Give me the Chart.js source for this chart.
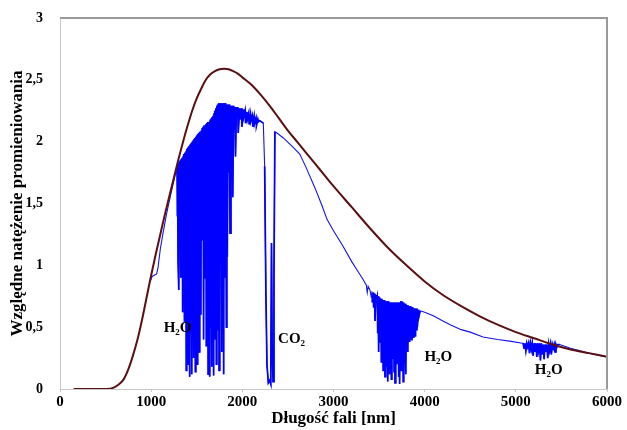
<!DOCTYPE html>
<html>
<head>
<meta charset="utf-8">
<script src="https://cdn.jsdelivr.net/npm/chart.js@4/dist/chart.umd.min.js"></script>
<style>
  html, body { margin: 0; padding: 0; background: #fff; }
</style>
</head>
<body>
<canvas id="spectrum-chart" width="627" height="430"></canvas>
<script>
// black body curve (nm, relative intensity)
const blackbodyNm = [150, 300, 450, 550, 600, 650, 700, 750, 800, 850, 900, 950, 1000, 1050, 1100, 1150, 1200, 1250, 1300, 1350, 1400, 1450, 1500, 1550, 1600, 1650, 1700, 1750, 1800, 1850, 1900, 1950, 2000, 2100, 2200, 2300, 2400, 2500, 2600, 2700, 2800, 2900, 3000, 3200, 3400, 3600, 3800, 4000, 4200, 4400, 4600, 4800, 5000, 5200, 5400, 5600, 5800, 6000];
const blackbodyVal = [0, 0, 0, 0.003, 0.015, 0.04, 0.08, 0.16, 0.27, 0.40, 0.56, 0.74, 0.92, 1.09, 1.25, 1.41, 1.56, 1.71, 1.86, 2.00, 2.13, 2.25, 2.35, 2.43, 2.50, 2.545, 2.57, 2.585, 2.59, 2.585, 2.57, 2.55, 2.52, 2.46, 2.38, 2.29, 2.19, 2.09, 2.00, 1.91, 1.82, 1.73, 1.64, 1.47, 1.30, 1.14, 1.00, 0.87, 0.76, 0.67, 0.59, 0.52, 0.46, 0.41, 0.36, 0.32, 0.29, 0.26];

// measured spectrum, in pieces [nm, value]
const solarRise = [[990,0.87],[1010,0.91],[1060,0.93],[1075,0.98],[1100,1.13],[1130,1.26],[1170,1.42],[1220,1.59],[1260,1.72],[1280,1.78]];
const h2oBand1 = [[1285,1.40],[1290,1.81],[1295,1.05],[1300,1.83],[1305,0.80],[1310,1.84],[1315,1.20],[1320,1.85],[1325,0.90],[1330,1.86],[1335,1.00],[1340,1.87],[1345,0.62],[1350,1.88],[1355,0.85],[1360,1.90],[1365,0.55],[1370,1.91],[1375,0.95],[1380,1.92],[1385,0.15],[1390,1.94],[1395,0.60],[1400,1.95],[1405,0.20],[1410,1.96],[1415,0.80],[1420,1.97],[1425,0.10],[1430,1.98],[1435,0.45],[1440,1.99],[1445,0.12],[1450,2.00],[1455,0.70],[1460,2.01],[1465,0.25],[1470,2.02],[1475,0.95],[1480,2.03],[1485,0.14],[1490,2.04],[1495,0.55],[1500,2.05],[1505,0.20],[1510,2.06],[1515,0.85],[1520,2.07],[1525,0.30],[1530,2.08],[1535,1.00],[1540,2.08],[1545,0.60],[1550,2.09],[1555,1.20],[1560,2.11],[1565,1.45],[1570,2.12],[1575,0.40],[1580,2.13],[1585,1.30],[1590,2.13],[1595,0.90],[1600,2.14],[1605,0.35],[1610,2.15],[1615,0.80],[1620,2.16],[1625,0.12],[1630,2.16],[1635,0.65],[1640,2.17],[1645,0.10],[1650,2.18],[1655,0.50],[1660,2.19],[1665,0.18],[1670,2.20],[1675,0.75],[1680,2.21],[1685,0.11],[1690,2.23],[1695,0.40],[1700,2.25],[1705,0.85],[1710,2.27],[1715,0.20],[1720,2.29],[1725,0.95],[1730,2.30],[1735,0.48],[1740,2.31],[1745,0.15],[1750,2.31],[1755,0.64],[1760,2.31],[1765,1.10],[1770,2.31],[1775,0.30],[1780,2.31],[1785,1.40],[1790,2.31],[1795,0.12],[1800,2.31],[1805,0.90],[1810,2.31],[1815,1.60],[1820,2.30],[1825,0.50],[1830,2.30],[1835,1.07],[1845,2.30],[1850,1.75],[1860,2.30],[1865,1.26],[1875,2.29],[1880,2.00],[1890,2.29],[1895,1.55],[1905,2.29],[1910,2.10],[1920,2.28],[1925,1.88],[1935,2.28],[1940,2.20],[1950,2.28],[1955,2.07],[1970,2.27],[1975,2.18],[1990,2.27],[1995,2.12],[2010,2.26],[2015,2.20],[2030,2.25],[2035,2.15],[2050,2.24],[2055,2.18],[2070,2.23],[2075,2.14],[2090,2.22],[2095,2.17],[2110,2.21],[2115,2.12],[2130,2.20],[2135,2.15],[2150,2.19],[2155,2.13],[2170,2.18],[2175,2.16],[2190,2.17],[2210,2.16],[2230,2.15]];
const co2Band = [[2245,1.80],[2258,0.80],[2270,0.20],[2285,0.05],[2300,0.07],[2312,0.04],[2320,1.18],[2327,0.35],[2337,0.06],[2347,0.90],[2357,2.08]];
const solarTail1 = [[2380,2.07],[2450,2.03],[2550,1.96],[2630,1.90],[2700,1.79],[2800,1.62],[2870,1.49],[2930,1.37],[3000,1.28],[3100,1.16],[3200,1.03],[3260,0.96],[3330,0.88],[3360,0.84],[3370,0.78],[3380,0.83],[3400,0.80],[3415,0.74],[3420,0.79]];
const h2oBand2 = [[3425,0.70],[3435,0.78],[3440,0.66],[3450,0.77],[3455,0.55],[3465,0.76],[3470,0.72],[3480,0.75],[3485,0.45],[3490,0.75],[3495,0.30],[3500,0.74],[3505,0.50],[3510,0.74],[3515,0.38],[3520,0.73],[3525,0.22],[3530,0.73],[3535,0.42],[3540,0.72],[3545,0.15],[3550,0.72],[3555,0.35],[3560,0.72],[3565,0.10],[3570,0.71],[3575,0.40],[3580,0.71],[3585,0.18],[3590,0.71],[3595,0.06],[3600,0.71],[3605,0.30],[3610,0.70],[3615,0.12],[3620,0.70],[3625,0.42],[3630,0.70],[3635,0.08],[3640,0.70],[3645,0.25],[3650,0.70],[3655,0.38],[3660,0.70],[3665,0.14],[3670,0.70],[3675,0.05],[3680,0.70],[3685,0.32],[3690,0.70],[3695,0.20],[3700,0.70],[3705,0.40],[3710,0.70],[3715,0.10],[3720,0.70],[3725,0.04],[3730,0.70],[3735,0.28],[3740,0.71],[3745,0.15],[3750,0.71],[3755,0.36],[3760,0.70],[3765,0.06],[3770,0.70],[3775,0.22],[3780,0.69],[3785,0.35],[3790,0.69],[3795,0.12],[3800,0.68],[3805,0.40],[3810,0.68],[3815,0.30],[3820,0.67],[3825,0.45],[3830,0.67],[3835,0.38],[3840,0.67],[3845,0.44],[3850,0.66],[3855,0.40],[3860,0.66],[3865,0.46],[3870,0.66],[3875,0.42],[3880,0.65],[3885,0.47],[3890,0.65],[3895,0.43],[3900,0.65],[3905,0.48],[3915,0.65],[3920,0.50],[3930,0.64],[3935,0.58],[3950,0.63]];
const solarTail2 = [[3960,0.63],[4000,0.62],[4100,0.59],[4200,0.55],[4280,0.52],[4400,0.48],[4500,0.46],[4640,0.42],[4800,0.40],[4950,0.385],[5070,0.37]];
const h2oBand3 = [[5080,0.37],[5090,0.33],[5100,0.37],[5110,0.31],[5120,0.37],[5130,0.34],[5140,0.37],[5150,0.29],[5160,0.37],[5170,0.32],[5180,0.37],[5190,0.27],[5200,0.37],[5210,0.30],[5220,0.37],[5230,0.26],[5240,0.37],[5250,0.31],[5260,0.37],[5270,0.23],[5280,0.37],[5290,0.28],[5300,0.36],[5310,0.24],[5320,0.36],[5330,0.30],[5340,0.36],[5350,0.25],[5360,0.36],[5370,0.31],[5380,0.36],[5390,0.28],[5400,0.36],[5410,0.33],[5420,0.36],[5430,0.30],[5440,0.36],[5450,0.34],[5460,0.36],[5480,0.36]];
const solarEnd = [[5600,0.33],[5800,0.29],[6000,0.26]];

const xTicks = [0, 1000, 2000, 3000, 4000, 5000, 6000];
const gasLabels = ["H₂O", "CO₂", "H₂O", "H₂O"];
const gasLabelNm = [1290, 2540, 4150, 5360];
const gasLabelVal = [0.49, 0.40, 0.26, 0.15];

const serif = '"Liberation Serif", "Times New Roman", serif';
const toPoints = (pairs) => pairs.map(p => ({ x: p[0], y: p[1] }));
const gap = [{ x: NaN, y: null }];

const blackbody = blackbodyNm.map((nm, i) => ({ x: nm, y: blackbodyVal[i] }));
const solar = toPoints([].concat(solarRise, h2oBand1, co2Band, solarTail1, h2oBand2, solarTail2, h2oBand3, solarEnd));
// absorption bands drawn a second time, a bit heavier, so the dense lines read as filled
const bands = [].concat(toPoints(h2oBand1), gap, toPoints(co2Band), gap, toPoints(h2oBand2), gap, toPoints(h2oBand3));

const frameAndLabels = {
  id: "frameAndLabels",
  afterDatasetsDraw(chart) {
    const { ctx, chartArea, scales } = chart;
    ctx.save();
    ctx.strokeStyle = "#9a9a9a";
    ctx.lineWidth = 2;
    ctx.beginPath();
    ctx.moveTo(chartArea.left, chartArea.top);
    ctx.lineTo(chartArea.right, chartArea.top);
    ctx.lineTo(chartArea.right, chartArea.bottom);
    ctx.stroke();
    ctx.fillStyle = "#000";
    ctx.font = "bold 15px " + serif;
    ctx.textAlign = "center";
    ctx.textBaseline = "middle";
    gasLabels.forEach((t, i) => {
      ctx.fillText(t, scales.x.getPixelForValue(gasLabelNm[i]), scales.y.getPixelForValue(gasLabelVal[i]));
    });
    ctx.restore();
  }
};

const config = {
  type: "line",
  data: {
    datasets: [
      {
        label: "Ciało doskonale czarne",
        data: blackbody,
        borderColor: "#5c0f10",
        borderWidth: 2,
        pointRadius: 0,
        cubicInterpolationMode: "monotone",
      },
      {
        label: "Pasma absorpcji",
        data: bands,
        borderColor: "#0000ff",
        borderWidth: 1.7,
        pointRadius: 0,
        spanGaps: false,
      },
      {
        label: "Widmo",
        data: solar,
        borderColor: "#1414e6",
        borderWidth: 1.1,
        pointRadius: 0,
      },
    ],
  },
  options: {
    responsive: false,
    animation: false,
    layout: { padding: { top: 18, right: 20, left: 0, bottom: 0 } },
    plugins: { legend: { display: false }, tooltip: { enabled: false } },
    scales: {
      x: {
        type: "linear",
        min: 0,
        max: 6000,
        afterBuildTicks: (scale) => { scale.ticks = xTicks.map(v => ({ value: v })); },
        afterFit: (scale) => { scale.height = 41; },
        grid: { drawOnChartArea: false, drawTicks: true, tickLength: 3, color: "#c8c8c8" },
        border: { color: "#c8c8c8" },
        ticks: {
          color: "#000",
          padding: 1,
          font: { family: serif, size: 15, weight: "bold" },
          callback: (v) => String(v),
        },
        title: {
          display: true,
          text: "Długość fali [nm]",
          color: "#000",
          padding: { top: 0, bottom: 1 },
          font: { family: serif, size: 17, weight: "bold" },
        },
      },
      y: {
        min: 0,
        max: 3,
        afterFit: (scale) => { scale.width = 60; },
        grid: { display: false },
        border: { color: "#c8c8c8" },
        ticks: {
          stepSize: 0.5,
          color: "#000",
          padding: 9,
          font: { family: serif, size: 14, weight: "bold" },
          callback: (v) => String(v).replace(".", ","),
        },
        title: {
          display: true,
          text: "Względne natężenie promieniowania",
          color: "#000",
          padding: { top: 7, bottom: 0 },
          font: { family: serif, size: 17, weight: "bold" },
        },
      },
    },
  },
  plugins: [frameAndLabels],
};

const ctx_spec = document.getElementById("spectrum-chart").getContext("2d");
const spectrumChart = new Chart(ctx_spec, config);
</script>
</body>
</html>
